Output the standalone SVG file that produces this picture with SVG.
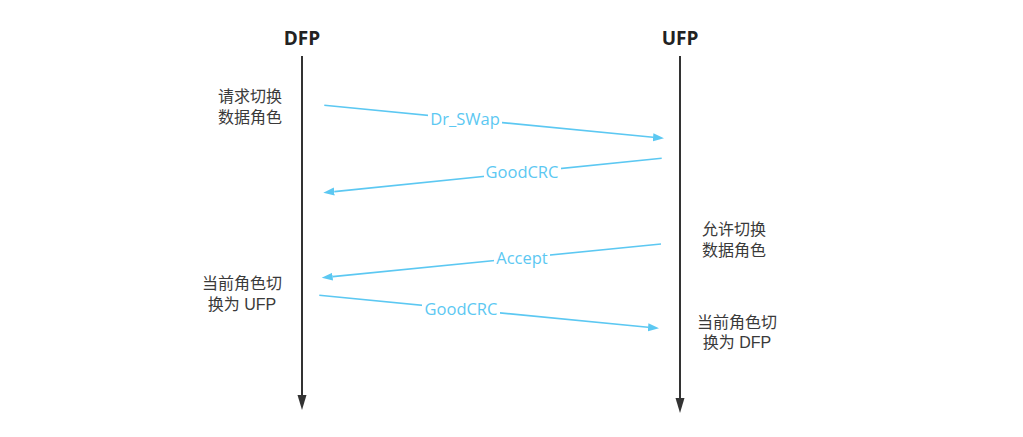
<svg xmlns="http://www.w3.org/2000/svg" width="1023" height="437" viewBox="0 0 1023 437">
<style>
.head{font-family:"Open Sans","Noto Sans",sans-serif;font-weight:bold;font-size:19px;fill:#222;text-anchor:middle}
.note{font-family:"Liberation Sans","Noto Sans CJK SC",sans-serif;font-size:16px;fill:#3a3a3a;text-anchor:middle}
.life{stroke:#333;stroke-width:2;fill:none}
.msg{stroke:#5CC8F2;stroke-width:1.6;fill:none}
.lblbg{fill:#fff}
.lbl{font-family:"Open Sans","Noto Sans",sans-serif;font-size:16.5px;fill:#5CC8F2;text-anchor:middle}
</style>
<defs>
<marker id="lifeHead" markerUnits="userSpaceOnUse" markerWidth="16" markerHeight="10" refX="0" refY="4.5" orient="auto" viewBox="0 0 16 10">
<path d="M0,0 L15,4.5 L0,9 z" fill="#333"/>
</marker>
<marker id="msgHead" markerUnits="userSpaceOnUse" markerWidth="12" markerHeight="9" refX="0" refY="4" orient="auto" viewBox="0 0 12 9">
<path d="M0,0 L11,4 L0,8 z" fill="#5CC8F2"/>
</marker>
</defs>
<rect width="1023" height="437" fill="#fff"/>
<g id="dfp">
<text class="head" x="302" y="45">DFP</text>
<line class="life" x1="302" y1="56" x2="302" y2="395" marker-end="url(#lifeHead)"/>
</g>
<g id="ufp">
<text class="head" x="680" y="45">UFP</text>
<line class="life" x1="680" y1="56" x2="680" y2="398" marker-end="url(#lifeHead)"/>
</g>
<g id="note-request">
<text class="note" x="250" y="102">请求切换</text>
<text class="note" x="250" y="123">数据角色</text>
</g>
<g id="note-dfp-switch">
<text class="note" x="242" y="289">当前角色切</text>
<text class="note" x="242" y="310">换为 UFP</text>
</g>
<g id="note-accept">
<text class="note" x="734" y="235">允许切换</text>
<text class="note" x="734" y="256">数据角色</text>
</g>
<g id="note-ufp-switch">
<text class="note" x="737" y="328">当前角色切</text>
<text class="note" x="737" y="348">换为 DFP</text>
</g>
<g id="connectors">
<line class="msg" x1="324.3" y1="105.3" x2="653.05" y2="137.24" marker-end="url(#msgHead)"/>
<rect class="lblbg" x="428" y="111" width="74" height="17"/>
<text class="lbl" x="465" y="125">Dr_SWap</text>
<line class="msg" x1="661.7" y1="158.3" x2="334.25" y2="191.59" marker-end="url(#msgHead)"/>
<rect class="lblbg" x="484" y="164" width="77" height="18"/>
<text class="lbl" x="522" y="178">GoodCRC</text>
<line class="msg" x1="661" y1="244" x2="332.65" y2="276.61" marker-end="url(#msgHead)"/>
<rect class="lblbg" x="494" y="251" width="56" height="16"/>
<text class="lbl" x="522" y="264">Accept</text>
<line class="msg" x1="319.3" y1="295.3" x2="648.05" y2="327.24" marker-end="url(#msgHead)"/>
<rect class="lblbg" x="422" y="301" width="78" height="17"/>
<text class="lbl" x="461" y="315">GoodCRC</text>
</g>
</svg>
